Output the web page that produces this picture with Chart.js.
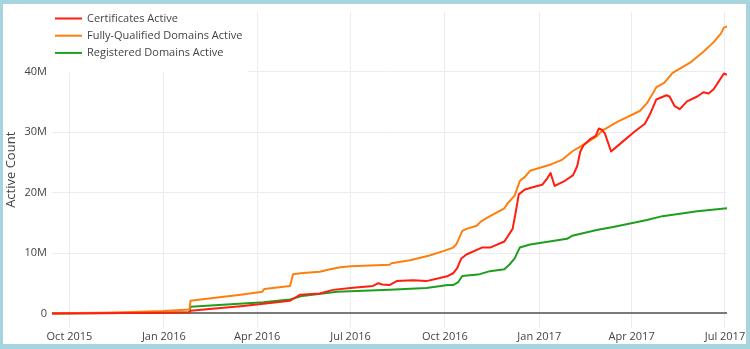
<!DOCTYPE html>
<html>
<head>
<meta charset="utf-8">
<title>Active Count</title>
<script src="https://cdn.jsdelivr.net/npm/chart.js@4/dist/chart.umd.min.js"></script>
<style>
  html, body { margin: 0; padding: 0; background: #a7d5df; }
  #frame { position: absolute; left: 3px; top: 4px; width: 743px; height: 340px; background: #ffffff; }
  #wrap { position: absolute; left: 0; top: 0; width: 750px; height: 349px; }
</style>
</head>
<body>
<div id="frame"></div>
<div id="wrap"><canvas id="chart" width="750" height="349"></canvas></div>
<script>
// Series (values in millions)
const seriesNames = ['Certificates Active', 'Fully-Qualified Domains Active', 'Registered Domains Active'];
const seriesColors = ['#ff1e0f', '#ff7f0e', '#1e9e1e'];

const certDates = [
  '2015-09-14','2016-01-01','2016-01-26','2016-01-27','2016-02-20','2016-03-16','2016-04-07','2016-05-03',
  '2016-05-13','2016-06-01','2016-06-14','2016-07-01','2016-07-23','2016-07-28','2016-08-01','2016-08-08',
  '2016-08-15','2016-08-31','2016-09-13','2016-09-26','2016-10-04','2016-10-09','2016-10-13','2016-10-17',
  '2016-10-22','2016-11-06','2016-11-14','2016-11-28','2016-12-01','2016-12-06','2016-12-09','2016-12-12',
  '2016-12-18','2016-12-30','2017-01-04','2017-01-09','2017-01-12','2017-01-16','2017-01-26','2017-02-03',
  '2017-02-07','2017-02-10','2017-02-13','2017-02-20','2017-02-25','2017-02-28','2017-03-03','2017-03-06',
  '2017-03-12','2017-03-21','2017-04-04','2017-04-14','2017-04-19','2017-04-25','2017-05-05','2017-05-08',
  '2017-05-13','2017-05-18','2017-05-25','2017-06-04','2017-06-10','2017-06-15','2017-06-20','2017-06-25',
  '2017-06-30','2017-07-03'
];
const certValues = [
  0, 0.1, 0.2, 0.45, 0.8, 1.2, 1.6, 2.1,
  3.1, 3.3, 3.9, 4.2, 4.55, 5.0, 4.8, 4.7,
  5.35, 5.5, 5.35, 5.85, 6.2, 6.65, 7.5, 9.1,
  9.75, 10.9, 10.9, 11.9, 12.7, 14.0, 16.7, 19.7,
  20.5, 21.1, 21.3, 22.4, 23.25, 21.1, 21.95, 22.9,
  24.4, 26.8, 27.8, 28.9, 29.4, 30.6, 30.4, 29.75,
  26.8, 28.1, 30.1, 31.4, 33.0, 35.4, 36.1, 35.9,
  34.3, 33.8, 35.1, 35.9, 36.6, 36.4, 37.1, 38.4,
  39.7, 39.5
];

const fqdnDates = [
  '2015-09-14','2015-11-01','2015-12-01','2016-01-01','2016-01-26','2016-01-27','2016-02-20','2016-03-16',
  '2016-04-06','2016-04-08','2016-05-03','2016-05-06','2016-05-13','2016-06-01','2016-06-11','2016-06-21',
  '2016-07-01','2016-07-20','2016-08-08','2016-08-10','2016-08-28','2016-09-16','2016-10-01','2016-10-09',
  '2016-10-12','2016-10-18','2016-10-22','2016-11-01','2016-11-05','2016-11-11','2016-11-14','2016-11-28',
  '2016-12-01','2016-12-08','2016-12-13','2016-12-18','2016-12-23','2017-01-13','2017-01-23','2017-02-02',
  '2017-02-12','2017-02-22','2017-02-26','2017-03-03','2017-03-18','2017-04-09','2017-04-16','2017-04-25',
  '2017-05-03','2017-05-11','2017-05-28','2017-06-10','2017-06-20','2017-06-27','2017-06-30','2017-07-03'
];
const fqdnValues = [
  0.02, 0.1, 0.25, 0.4, 0.65, 2.1, 2.6, 3.1,
  3.6, 4.05, 4.55, 6.5, 6.65, 6.9, 7.3, 7.65,
  7.8, 7.95, 8.05, 8.3, 8.8, 9.6, 10.4, 10.9,
  11.4, 13.65, 14.0, 14.5, 15.2, 15.8, 16.1, 17.4,
  18.2, 19.5, 21.9, 22.6, 23.6, 24.7, 25.4, 26.8,
  27.8, 28.9, 29.3, 30.2, 31.7, 33.5, 34.8, 37.4,
  38.2, 39.8, 41.5, 43.3, 44.9, 46.3, 47.3, 47.5
];

const regDates = [
  '2015-09-14','2016-01-26','2016-01-27','2016-04-07','2016-05-03','2016-05-15','2016-06-04','2016-06-18',
  '2016-08-08','2016-09-13','2016-10-04','2016-10-09','2016-10-14','2016-10-18','2016-11-04','2016-11-14',
  '2016-11-28','2016-12-03','2016-12-08','2016-12-13','2016-12-23','2017-01-14','2017-01-28','2017-02-02',
  '2017-02-26','2017-03-14','2017-04-16','2017-05-01','2017-06-04','2017-07-03'
];
const regValues = [
  0, 0.15, 1.1, 1.85, 2.3, 2.9, 3.3, 3.6,
  3.9, 4.2, 4.7, 4.7, 5.2, 6.2, 6.5, 7.0,
  7.3, 8.1, 9.1, 10.9, 11.4, 12.0, 12.35, 12.85,
  13.8, 14.3, 15.45, 16.1, 16.9, 17.4
];

// Axis ticks
const xTickDates = ['2015-10-01','2016-01-01','2016-04-01','2016-07-01','2016-10-01','2017-01-01','2017-04-01','2017-07-01'];
const xTickLabels = ['Oct 2015','Jan 2016','Apr 2016','Jul 2016','Oct 2016','Jan 2017','Apr 2017','Jul 2017'];
const yTickValues = [0, 10, 20, 30, 40];
const yTickLabels = ['0', '10M', '20M', '30M', '40M'];

const toDay = s => { const [y, m, d] = s.split('-').map(Number); return Date.UTC(y, m - 1, d) / 86400000; };
const toPoints = (dates, values) => dates.map((d, i) => ({ x: toDay(d), y: values[i] }));

const seriesData = [toPoints(certDates, certValues), toPoints(fqdnDates, fqdnValues), toPoints(regDates, regValues)];
const xMin = toDay(certDates[0]);
const xMax = toDay(certDates[certDates.length - 1]);

const TEXT = '#444444';
Chart.defaults.font.family = '"Open Sans", "Noto Sans", sans-serif';
Chart.defaults.font.size = 11;
Chart.defaults.color = TEXT;

// Legend box in the top-left corner of the plot
const legendBox = {
  id: 'legendBox',
  afterDatasetsDraw(chart) {
    const { ctx, chartArea } = chart;
    ctx.save();
    ctx.fillStyle = '#ffffff';
    ctx.fillRect(chartArea.left, chartArea.top, 196, 61);
    ctx.font = '11px "Open Sans", "Noto Sans", sans-serif';
    ctx.textBaseline = 'middle';
    ctx.lineWidth = 2;
    chart.data.datasets.forEach((ds, i) => {
      const y = 18.5 + i * 17.2;
      ctx.strokeStyle = ds.borderColor;
      ctx.beginPath();
      ctx.moveTo(55, y);
      ctx.lineTo(82, y);
      ctx.stroke();
      ctx.fillStyle = TEXT;
      ctx.fillText(ds.label, 87, y);
    });
    ctx.restore();
  }
};

new Chart(document.getElementById('chart'), {
  type: 'line',
  data: {
    datasets: seriesNames.map((name, i) => ({
      label: name,
      data: seriesData[i],
      borderColor: seriesColors[i],
      backgroundColor: seriesColors[i],
      borderWidth: 2,
      pointRadius: 0,
      tension: 0,
      fill: false,
      borderJoinStyle: 'round'
    }))
  },
  options: {
    responsive: false,
    animation: false,
    devicePixelRatio: 1,
    layout: { padding: { left: 0, right: 23, top: 6, bottom: 0 } },
    plugins: { legend: { display: false }, tooltip: { enabled: false } },
    scales: {
      x: {
        type: 'linear',
        min: xMin,
        max: xMax,
        border: { display: false },
        grid: { color: '#ececec', lineWidth: 1, drawTicks: false },
        ticks: {
          padding: 2,
          maxRotation: 0,
          autoSkip: false,
          font: { size: 11 },
          callback: (v) => { const i = xTickDates.findIndex(d => toDay(d) === v); return i >= 0 ? xTickLabels[i] : ''; }
        },
        afterBuildTicks: (scale) => { scale.ticks = xTickDates.map(d => ({ value: toDay(d) })); },
        afterFit: (scale) => { scale.height = 21; }
      },
      y: {
        type: 'linear',
        min: -2.41,
        max: 49.95,
        border: { display: false },
        grid: {
          drawTicks: false,
          color: (c) => (c.tick && c.tick.value === 0 ? '#7a7a7a' : '#ececec'),
          lineWidth: (c) => (c.tick && c.tick.value === 0 ? 2 : 1)
        },
        ticks: {
          padding: 5,
          font: { size: 11 },
          callback: (v) => { const i = yTickValues.indexOf(v); return i >= 0 ? yTickLabels[i] : ''; }
        },
        afterBuildTicks: (scale) => { scale.ticks = yTickValues.map(v => ({ value: v })); },
        afterFit: (scale) => { scale.width = 52; },
        title: {
          display: true,
          text: 'Active Count',
          color: TEXT,
          font: { size: 13 },
          padding: { top: 3, bottom: 0 }
        }
      }
    }
  },
  plugins: [legendBox]
});
</script>
</body>
</html>
